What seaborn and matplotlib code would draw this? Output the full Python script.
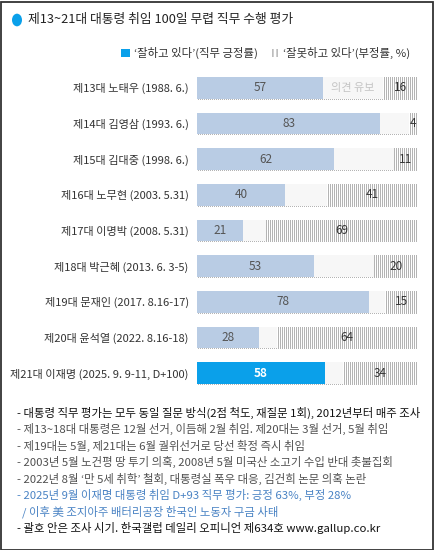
import matplotlib
matplotlib.use("Agg")
import matplotlib.pyplot as plt
import seaborn as sns
import pandas as pd
import numpy as np
from matplotlib.patches import Rectangle, Circle, Patch
from matplotlib.colors import to_rgb

# data
labels = ["제13대 노태우 (1988. 6.)", "제14대 김영삼 (1993. 6.)", "제15대 김대중 (1998. 6.)",
          "제16대 노무현 (2003. 5.31)", "제17대 이명박 (2008. 5.31)", "제18대 박근혜 (2013. 6. 3-5)",
          "제19대 문재인 (2017. 8.16-17)", "제20대 윤석열 (2022. 8.16-18)",
          "제21대 이재명 (2025. 9. 9-11, D+100)"]
positive = [57, 83, 62, 40, 21, 53, 78, 28, 58]
negative = [16, 4, 11, 41, 69, 20, 15, 64, 34]

title = "제13~21대 대통령 취임 100일 무렵 직무 수행 평가"
legend_pos = "‘잘하고 있다’(직무 긍정률)"
legend_neg = "‘잘못하고 있다’(부정률, %)"
notes = [
    "- 대통령 직무 평가는 모두 동일 질문 방식(2점 척도, 재질문 1회), 2012년부터 매주 조사",
    "- 제13~18대 대통령은 12월 선거, 이듬해 2월 취임. 제20대는 3월 선거, 5월 취임",
    "- 제19대는 5월, 제21대는 6월 궐위선거로 당선 확정 즉시 취임",
    "- 2003년 5월 노건평 땅 투기 의혹, 2008년 5월 미국산 소고기 수입 반대 촛불집회",
    "- 2022년 8월 ‘만 5세 취학’ 철회, 대통령실 폭우 대응, 김건희 논문 의혹 논란",
    "- 2025년 9월 이재명 대통령 취임 D+93 직무 평가: 긍정 63%, 부정 28%",
    "  / 이후 美 조지아주 배터리공장 한국인 노동자 구금 사태",
    "- 괄호 안은 조사 시기. 한국갤럽 데일리 오피니언 제634호 www.gallup.co.kr",
]
note_colors = ["#111111", "#505050", "#505050", "#505050", "#505050", "#4a83c4", "#4a83c4", "#111111"]

df = pd.DataFrame({"label": labels, "pos": positive, "neg": negative})
df["full"] = 100
df["rest"] = df["full"] - df["neg"]

sns.set_theme(style="white")
plt.rcParams["font.family"] = ["Noto Sans CJK KR", "DejaVu Sans"]
plt.rcParams["hatch.linewidth"] = 0.7

W, H = 435, 550
fig = plt.figure(figsize=(W / 100, H / 100), dpi=100)

AX_X, AX_TOP, AX_W, AX_H = 197, 70, 221, 321  # axes box in pixels
ax = fig.add_axes([AX_X / W, 1 - (AX_TOP + AX_H) / H, AX_W / W, AX_H / H])
ax.patch.set_visible(False)
bw = 0.6
n = len(labels)

# invisible full-width bars, used only as clip shapes for the striped "negative" texture
sns.barplot(data=df, x="full", y="label", color="white", width=bw, ax=ax, linewidth=0,
            saturation=1, alpha=0)

# vertical pin-stripe texture (1px grey / 1px white) placed pixel-exact behind the axes
stripe = np.ones((AX_H, AX_W, 3))
stripe[:, 1::2] = to_rgb("#b4b4b4")
for bar in ax.containers[0]:
    im = fig.figimage(stripe, xo=AX_X, yo=H - AX_TOP - AX_H, zorder=-1)
    im.set_clip_path(bar)

sns.barplot(data=df, x="rest", y="label", color="#f7f7f7", width=bw, ax=ax, linewidth=0,
            saturation=1)
sns.barplot(data=df, x="pos", y="label", color="#b9cce4", width=bw, ax=ax, linewidth=0,
            saturation=1)
ax.containers[2][n - 1].set_facecolor("#0aa0ea")

ax.set_xlim(0, 100)
ax.set_ylim(n - 0.5, -0.5)
ax.set_xlabel("")
ax.set_ylabel("")
ax.set_xticks([])
ax.tick_params(axis="y", length=0, pad=6, labelsize=8, labelcolor="#333333")
for s in ax.spines.values():
    s.set_visible(False)

for i, (p, m) in enumerate(zip(positive, negative)):
    is_last = i == n - 1
    ax.text(p / 2, i, str(p), ha="center", va="center", fontsize=8.5,
            color="white" if is_last else "#555555", fontweight="bold" if is_last else "normal")
    nx = min(100 - m / 2, 97.8)
    ax.text(nx, i, str(m), ha="center", va="center", fontsize=8.5, color="#333333")
ax.text((positive[0] + 100 - negative[0]) / 2, 0, "의견 유보", ha="center", va="center",
        fontsize=8, color="#c4c4c4")

# title
fig.patches.append(Circle((17 / W, 1 - 20 / H), 5 / W, transform=fig.transFigure,
                          facecolor="#0aa0ea", edgecolor="none"))
fig.text(28 / W, 1 - 20 / H, title, ha="left", va="center", fontsize=9.2, color="#222222")

# legend
handles = [Patch(facecolor="#0aa0ea", edgecolor="none"),
           Patch(facecolor="white", edgecolor="#8c8c8c", hatch="||||", linewidth=0)]
fig.legend(handles, [legend_pos, legend_neg], loc="center right",
           bbox_to_anchor=(420 / W, 1 - 53 / H), ncol=2, frameon=False, fontsize=8.2,
           handlelength=0.75, handleheight=0.75, handletextpad=0.4, columnspacing=1.0,
           labelcolor="#333333")

# notes
for i, (t, c) in enumerate(zip(notes, note_colors)):
    fig.text(17 / W, 1 - (412.5 + 16.5 * i) / H, t, ha="left", va="center", fontsize=8.2, color=c)

# frame
fig.patches.append(Rectangle((0.5 / W, 0.5 / H), (W - 2) / W, (H - 2) / H, transform=fig.transFigure,
                             fill=False, edgecolor="#333333", linewidth=1.3))

fig.savefig("out.png", dpi=100)
